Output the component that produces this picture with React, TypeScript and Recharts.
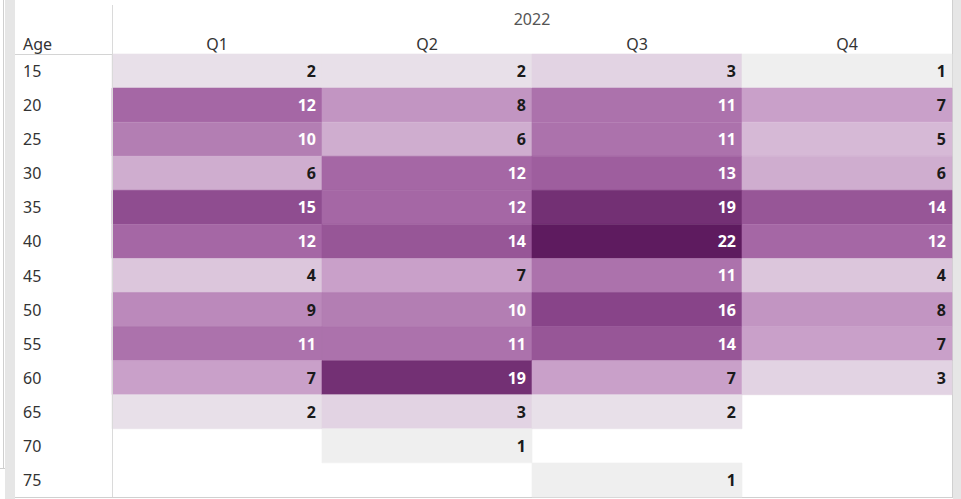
import { Bar, BarChart, Cell, LabelList, Label, XAxis, YAxis } from "recharts"

const ages = ["15", "20", "25", "30", "35", "40", "45", "50", "55", "60", "65", "70", "75"]
const quarters = ["Q1", "Q2", "Q3", "Q4"]
const year = "2022"

const q1 = [2, 12, 10, 6, 15, 12, 4, 9, 11, 7, 2, null, null]
const q2 = [2, 8, 6, 12, 12, 14, 7, 10, 11, 19, 3, 1, null]
const q3 = [3, 11, 11, 13, 19, 22, 11, 16, 14, 7, 2, null, 1]
const q4 = [1, 7, 5, 6, 14, 12, 4, 8, 7, 3, null, null, null]

const series = [q1, q2, q3, q4]

const data = ages.map((age, i) => ({
  age,
  Q1: q1[i],
  Q2: q2[i],
  Q3: q3[i],
  Q4: q4[i],
}))

// tableau-ish purple sequential ramp
const stops: [number, string][] = [
  [1, "#efefef"],
  [2, "#e8e0e9"],
  [4, "#dcc6dc"],
  [7, "#c9a0c9"],
  [12, "#a567a5"],
  [16, "#884489"],
  [22, "#5e1b5f"],
]

function hex(c: string) {
  return [1, 3, 5].map((i) => parseInt(c.slice(i, i + 2), 16))
}

function colorFor(v: number | null) {
  if (v == null) return "transparent"
  for (let i = 1; i < stops.length; i++) {
    const [v0, c0] = stops[i - 1]
    const [v1, c1] = stops[i]
    if (v <= v1) {
      const t = (v - v0) / (v1 - v0)
      const a = hex(c0)
      const b = hex(c1)
      const m = a.map((x, k) => Math.round(x + (b[k] - x) * t))
      return `rgb(${m[0]},${m[1]},${m[2]})`
    }
  }
  return stops[stops.length - 1][1]
}

const font = "'Noto Sans', sans-serif"

const ValueLabel = (props: any) => {
  const { x, y, width, height, value } = props
  if (value == null) return null
  return (
    <text
      x={x + width - 6}
      y={y + height / 2}
      textAnchor="end"
      dominantBaseline="central"
      fontFamily={font}
      fontSize={16}
      fontWeight={700}
      fill={value >= 10 ? "#ffffff" : "#1a1a1a"}
    >
      {value}
    </text>
  )
}

const AgeTick = (props: any) => {
  const { y, payload } = props
  return (
    <text x={23} y={y} dominantBaseline="central" fontFamily={font} fontSize={16} fill="#333">
      {payload.value}
    </text>
  )
}

const QTick = (props: any) => {
  const { x, y, payload } = props
  return (
    <text x={x} y={y} dy={-4} textAnchor="middle" fontFamily={font} fontSize={16} fill="#333">
      {quarters[Math.floor(payload.value)]}
    </text>
  )
}

const YearHeader = (props: any) => {
  const { viewBox } = props
  const { x, width } = viewBox
  return (
    <text x={x + width / 2} y={25} textAnchor="middle" fontFamily={font} fontSize={16} fill="#555">
      {year}
    </text>
  )
}

const AgeHeader = (props: any) => {
  const { viewBox } = props
  const { x, y, width, height } = viewBox
  return (
    <g>
      <text x={x + 8} y={y - 4} fontFamily={font} fontSize={16} fill="#333">
        Age
      </text>
      <line x1={x} x2={x + width} y1={y + 0.5} y2={y + 0.5} stroke="#d4d4d4" />
      <line x1={x + width + 0.5} x2={x + width + 0.5} y1={5} y2={y + height} stroke="#dadada" />
    </g>
  )
}

export default function App() {
  return (
    <div style={{ position: "absolute", left: 0, top: 0, width: 961, height: 499, background: "#fff", overflow: "hidden" }}>
      <div style={{ position: "absolute", left: 3, top: 0, width: 1, height: 468, background: "#cfcfcf" }} />
      <div style={{ position: "absolute", left: 0, top: 468, width: 5, height: 1, background: "#cfcfcf" }} />
      <div style={{ position: "absolute", left: 5, top: 0, width: 10, height: 499, background: "#e6e6e6" }} />
      <div style={{ position: "absolute", left: 953, top: 0, width: 8, height: 499, background: "#e6e6e6" }} />
      <div
        style={{
          position: "absolute",
          left: 15,
          top: 0,
          width: 937,
          height: 497,
          background: "#fff",
          borderRight: "1px solid #d0d0d0",
          borderBottom: "1px solid #d0d0d0",
        }}
      />
      <div style={{ position: "absolute", left: 0, top: 0 }}>
        <BarChart
          width={961}
          height={499}
          data={data}
          layout="vertical"
          margin={{ top: 0, right: 9, bottom: 2, left: 15 }}
          barCategoryGap={0}
          barGap={0}
        >
          <XAxis
            xAxisId="q"
            orientation="top"
            type="number"
            domain={[0, 4]}
            ticks={[0.5, 1.5, 2.5, 3.5]}
            height={54}
            tickSize={0}
            tickMargin={0}
            tickLine={false}
            axisLine={false}
            tick={<QTick />}
            interval={0}
          >
            <Label content={<YearHeader />} />
          </XAxis>
          <YAxis
            type="category"
            dataKey="age"
            width={97}
            tickLine={false}
            axisLine={false}
            tick={<AgeTick />}
            interval={0}
          >
            <Label content={<AgeHeader />} />
          </YAxis>
          {quarters.map((q, qi) => (
            <Bar key={q} xAxisId="q" dataKey={() => 1} stackId="a" isAnimationActive={false}>
              {series[qi].map((v, i) => (
                <Cell key={i} fill={colorFor(v)} stroke={colorFor(v)} strokeWidth={0.6} />
              ))}
              <LabelList dataKey={q} content={<ValueLabel />} />
            </Bar>
          ))}
        </BarChart>
      </div>
    </div>
  )
}
